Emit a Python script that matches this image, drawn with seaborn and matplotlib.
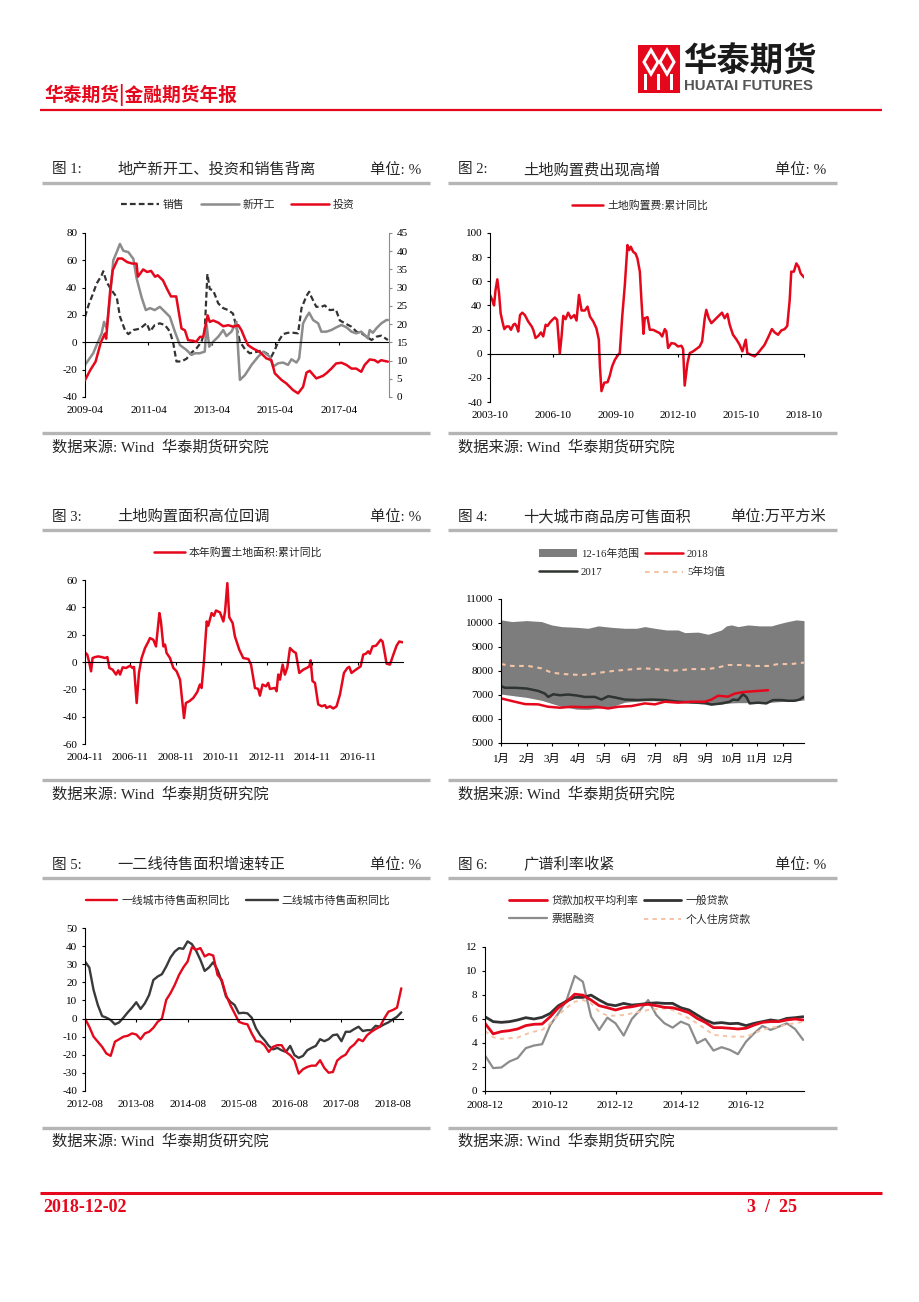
import numpy as np
import seaborn as sns
import matplotlib.pyplot as plt
from matplotlib.lines import Line2D
from matplotlib.patches import Patch, Rectangle, Polygon

# ---------------- data ----------------
# 图1  (x = months since 2009-04)
sales_m = [0, 1.3, 3.1, 4.4, 6.3, 6.9, 8.2, 10.1, 12, 13.2, 15.1, 16.4, 18.3, 20.8, 23.3, 24.6, 26.4,
           28.3, 30.2, 32.1, 33.4, 34.6, 36.5, 38.4, 40.3, 42.2, 44.1, 45.3, 46.3, 47.2, 48.5, 50.4,
           52.3, 54.2, 56, 57.3, 58.6, 60.5, 62.3, 64.9, 66.8, 68.6, 70.5, 71.8, 73.1, 74.9, 76.8,
           78.7, 80.6, 81.9, 83.8, 84.8, 85.7, 87.5, 89.4, 90.7, 92.6, 94.9, 96.4, 98.3, 100.8,
           102.7, 104.6, 106.5, 108.4, 110.2, 112.1, 114.6]
sales_v = [18.7, 27, 36, 43, 49, 52, 44, 38, 33, 19, 9, 6, 9, 10, 14, 8, 12.7, 13.9, 12.7, 8,
           -0.7, -14, -14, -12, -7.5, -4.4, 0.5, 9, 50, 39, 38, 28.5, 25, 23.6, 21, 11, 0.5, -5,
           -8, -7, -6, -8, -10.5, -5.6, 0.5, 6, 7, 7, 6.6, 25, 34, 37, 33, 26, 26, 27, 23.6, 24,
           16, 14, 11.4, 7.8, 6.6, 4.1, 1.7, 4.1, 4.9, 1.7]
starts_m = [0, 1.3, 3.1, 4.4, 6.3, 7.2, 8.2, 9.4, 10.7, 12, 13.2, 14.5, 16.4, 18.3, 19.5, 21.4, 23,
            24.6, 26.4, 28.3, 30.2, 32.1, 34, 35.9, 38.4, 40.3, 41.6, 43.4, 45.3, 46, 47, 48.5,
            50.4, 52.3, 53.5, 55.4, 57.3, 58.6, 60.5, 63, 65.5, 67.4, 69.9, 71.2, 73.1, 74.9,
            76.8, 78.1, 80, 81, 82.5, 83.8, 84.8, 86.3, 88.2, 89.4, 91.3, 93.2, 95.1, 97, 98.9,
            100.8, 102.6, 104.5, 105.8, 107, 107.7, 108.9, 110.2, 112.1, 114, 114.6]
starts_v = [-16.5, -13, -8, -2, 6.6, 15, 10, 31, 60, 66, 72, 67, 66, 61, 47, 33, 23.6, 25, 23.6,
            26, 22.4, 18.7, 7.8, -2, -5.6, -9.2, -8, -8, -6.8, 12.7, -3.2, 0.5, 4.1, 9, 4.6, 7.8,
            15, -27.5, -24, -16.5, -10.5, -6.8, -10.5, -17.8, -15.3, -14.8, -16.5, -12.4, -14.8,
            -11.7, 13.9, 18.7, 21.7, 16.3, 13.9, 7.8, 7.8, 9, 11, 12.7, 11, 7.8, 6.6, 7.8, 5.4,
            2.9, 9, 7, 10.2, 13.9, 16.3, 16.3]
inv_m = [0, 2, 4, 6, 7.5, 8, 9.5, 10.5, 12.5, 14, 16, 18, 19.5, 20, 22, 23.5, 25, 26.5, 27.5,
         29.5, 31, 32.5, 34.5, 36.5, 37.8, 39, 41, 42, 43.5, 44.7, 46.4, 47.2, 48.5, 50.4, 52.3,
         54.2, 56, 58, 59.2, 60.5, 61.7, 63.6, 66, 68.6, 70.5, 71.8, 74.3, 76.2, 78.7, 80.6,
         82.5, 83.8, 85, 87.5, 90, 91.3, 93.2, 95, 97, 98.9, 100.8, 102.6, 104.5, 105.8, 107.7,
         109.6, 110.8, 112, 113.3, 114.6]
inv_v = [4.6, 7.4, 9.7, 15, 17.4, 16, 29, 34.8, 38, 38, 37, 36.6, 36.6, 33, 35, 34.3, 34.6, 33,
         33.4, 32, 29.7, 27.6, 27.6, 18.8, 18.3, 15.6, 15.4, 15.1, 16.5, 16.5, 22.4, 20.6, 21,
         20.4, 19.4, 19.7, 19.3, 19.7, 18.3, 16, 14.2, 13.3, 12.4, 10.6, 10.1, 6.5, 4.7, 3.7,
         1.9, 1.0, 2.8, 6.7, 7.2, 5.1, 5.8, 6.5, 7.8, 9.2, 9.4, 8.8, 7.8, 7.8, 6.9, 8.8, 10.3,
         10.1, 9.5, 10.1, 9.9, 9.7]
fig1_ticks = ['2009-04', '2011-04', '2013-04', '2015-04', '2017-04']

# 图2  (x = months since 2003-10)
fee_m = [0, 1.3, 2.3, 3.2, 4.2, 5.2, 6.1, 7.1, 8.2, 9.5, 10.9, 12, 13.4, 14.3, 15.3, 16.2, 17.2,
         18.5, 20, 21.9, 23.9, 24.8, 26.1, 27.7, 29.2, 30.5, 31.9, 33, 34.4, 35.7, 37.2, 38.5, 40,
         41, 42, 43.3, 44.8, 46.4, 48.3, 49.6, 51, 52.5, 54.4, 55.9, 57.3, 59.2, 61, 62.4, 63,
         63.9, 65.5, 67.4, 68.7, 70, 71.6, 73.5, 74.4, 75.8, 77.3, 78.8, 79.8, 80.7, 82.1, 83.4,
         84.5, 85.9, 86.8, 88, 88.7, 90.3, 91.6, 93.5, 95.4, 97.3, 98.7, 100.2, 101.1, 102.1,
         104, 105.9, 107.8, 109.7, 110.7, 111.6, 113.2, 114.5, 116.4, 118.3, 120.2, 121.6,
         123.1, 124, 125.4, 126.9, 128.8, 130.7, 133, 134.5, 136.1, 137.4, 139.3, 141.2, 143.1,
         144.7, 146.6, 147.5, 149.4, 151.7, 153.6, 155.5, 157.4, 159.7, 161.6, 163.2, 165.1,
         167, 168.9, 170.4, 171.8, 172.7, 174.2, 175.6, 176.9, 178.1, 180]
fee_v = [48.7, 44.5, 40, 53, 61.6, 50, 33.5, 26.7, 20.4, 22.6, 22.6, 19.8, 24, 24.8, 22.6, 18.4,
         32, 34, 32, 26.7, 22.6, 19.8, 13, 14.8, 17.6, 14.3, 24, 23, 26, 28, 30, 28, 0, 14, 31.4,
         28.6, 34, 29.4, 32, 27.5, 48.7, 35.8, 35.8, 39, 30.8, 26.7, 21, 11.6, -10.5, -31, -24,
         -23.6, -18, -10.5, -5, -0.8, 0.5, 30.8, 57, 90, 85.8, 88.6, 84.4, 83, 79, 68, 44.5,
         16.5, 29.4, 30.3, 19.8, 19.8, 18.4, 17, 14.3, 20.4, 18.4, 4.7, 8.8, 8.3, 6, 6.6, 3.9,
         -26.4, -7.7, 0.5, 1.9, 3.9, 6, 10.2, 29.4, 36.3, 29.4, 25.3, 28, 30.8, 34, 29.4, 33,
         24, 15.7, 12, 7.4, 2, 11.6, 0.5, -0.8, -2.2, 0.5, 3.9, 7.4, 14.3, 20.4, 17.6, 15.7,
         19.3, 20.4, 23, 44.5, 68, 68, 74.8, 72, 66.5, 63.3]
fig2_ticks = ['2003-10', '2006-10', '2009-10', '2012-10', '2015-10', '2018-10']

# 图3  (x = months since 2004-11)
area_m = [0, 1.2, 2.3, 3.2, 4, 5.3, 7, 8.8, 10.6, 11.8, 12.9, 14.6, 16.4, 17.6, 18.5, 19.9, 21.7,
          23.8, 25.2, 25.9, 27.3, 28.5, 29.9, 31.7, 33.5, 34.3, 36.1, 37.5, 39.3, 40.1, 41.4,
          42.3, 43.1, 44.9, 46.7, 48.4, 50.2, 52.3, 53.3, 55.1, 57.2, 59.3, 60.7, 61.6, 62.9,
          64.3, 65.1, 66.9, 68.1, 69.2, 71.3, 73.1, 74, 75.2, 76.2, 78, 79.2, 81.5, 83.6, 86.3,
          87.7, 88.9, 89.8, 91.5, 92.4, 93.8, 95.6, 96.8, 97.7, 100.4, 101.2, 102.1, 103, 104.4,
          105.6, 106.9, 108.3, 110, 111.4, 113.2, 115.3, 117.1, 118.5, 119.2, 120.2, 121.5,
          123.2, 125, 126.8, 127.6, 129.4, 131.2, 132.9, 134.7, 136.8, 138.6, 139.6, 140.8,
          142.6, 144.4, 145.6, 147, 148.4, 149.6, 150.5, 151.9, 153.7, 154.9, 156.2, 157.2,
          158.5, 159.3, 161.1, 162.9, 164.6, 166, 167.8]
area_v = [7, 5.4, -0.7, -6.8, 2.9, 3.6, 4.1, 3.6, 2.9, 3.6, -4.4, -5.6, -9.2, -6.1, -9.2, -3.9,
          -4.4, -2.7, -4.4, -3.6, -30, -8, 2.9, 10.2, 15, 17.5, 16.3, 11.4, 35.8, 29.7, 11.4,
          12.7, 6.6, 2.9, -4.4, -6.8, -12.9, -41, -30, -28.7, -26.3, -22, -16.5, -19, 1.7, 29.7,
          26.5, 35.8, 33.8, 37.7, 36.3, 29.7, 37, 57.7, 32.8, 28.5, 18.7, 9, 2.9, 2.2, -1.9,
          -11.7, -19, -19.7, -24.6, -16.5, -17.8, -15.3, -19.7, -19, -21.4, -9.2, -12.9, -1.9,
          -9.2, -3.9, 10.2, 7.8, 6.6, -8, -5.6, -4.4, -3.2, 1.2, -14, -15.3, -31, -32.4, -31.6,
          -33.6, -32.4, -34, -32.4, -23.8, -8, -4.4, -3.6, -8, -6.1, -4.4, -3.2, 5.4, 6.1, 7.8,
          6.1, 11.4, 11.9, 13.9, 16.3, 15, 5.4, -1.2, -1.9, 5.4, 11.9, 15, 14.4]
fig3_ticks = ['2004-11', '2006-11', '2008-11', '2010-11', '2012-11', '2014-11', '2016-11']

# 图4  (x = position within the year, 0 = 1月)
band_t = [0, 0.42, 1, 1.58, 1.97, 2.36, 2.95, 3.4, 3.79, 4.31, 4.83, 5.29, 5.61, 6, 6.45, 6.91,
          7.17, 7.69, 8.08, 8.6, 8.79, 8.99, 9.25, 9.64, 10.09, 10.55, 10.81, 11.19, 11.52, 11.82]
band_hi = [10130, 10060, 10100, 10060, 9920, 9850, 9820, 9780, 9880, 9820, 9780, 9780, 9850,
           9780, 9710, 9710, 9600, 9620, 9530, 9710, 9880, 9920, 9850, 9920, 9880, 9880, 9960,
           10060, 10130, 10100]
band_lo = [7040, 6980, 6900, 6780, 6650, 6520, 6410, 6400, 6450, 6510, 6700, 6740, 6760, 6760,
           6740, 6720, 6700, 6640, 6590, 6620, 6650, 6670, 6680, 6680, 6690, 6700, 6720, 6740,
           6760, 6790]
y2017_t = [0, 0.16, 0.55, 1, 1.45, 1.71, 1.84, 2.04, 2.3, 2.62, 2.95, 3.27, 3.66, 3.92, 4.18,
           4.44, 4.83, 5.35, 5.87, 6.39, 6.91, 7.43, 7.95, 8.21, 8.6, 8.92, 9.05, 9.25, 9.44,
           9.57, 9.7, 10.03, 10.35, 10.61, 10.94, 11.19, 11.45, 11.65, 11.82]
y2017_v = [7370, 7300, 7300, 7270, 7170, 7060, 6920, 7030, 6990, 7020, 6980, 6920, 6920, 6810,
           6950, 6900, 6810, 6790, 6810, 6790, 6720, 6690, 6680, 6600, 6650, 6720, 6810, 6790,
           7030, 6920, 6650, 6680, 6650, 6790, 6790, 6760, 6760, 6810, 6930]
y2018_t = [0, 0.42, 0.94, 1.45, 1.84, 2.3, 2.75, 3.27, 3.73, 4.18, 4.57, 5.09, 5.61, 6, 6.39,
           6.91, 7.43, 7.95, 8.21, 8.47, 8.86, 9.12, 9.51, 10.03, 10.42]
y2018_v = [6860, 6750, 6620, 6610, 6510, 6470, 6510, 6490, 6510, 6440, 6510, 6540, 6650, 6610,
           6720, 6680, 6720, 6720, 6810, 6970, 6930, 7060, 7130, 7170, 7200]
avg5_t = [0, 0.42, 1.06, 1.58, 1.97, 2.49, 3.14, 3.53, 3.92, 4.44, 5.09, 5.61, 6.13, 6.65, 7.04,
          7.43, 8.08, 8.47, 8.86, 9.38, 9.9, 10.42, 10.81, 11.32, 11.82]
avg5_v = [8290, 8210, 8210, 8110, 7930, 7870, 7830, 7870, 7940, 8010, 8070, 8110, 8070, 8010,
          8040, 8080, 8080, 8150, 8250, 8250, 8210, 8210, 8290, 8290, 8350]
month_labels = ['1月', '2月', '3月', '4月', '5月', '6月', '7月', '8月', '9月', '10月', '11月', '12月']

# 图5  (monthly from 2012-08)
tier1 = [0, -4.5, -10, -12.8, -15.6, -19.3, -20.6, -12.8, -11.4, -10, -9.5, -8.2, -8.8, -11.4,
         -8.2, -7.3, -5.1, -1.8, 0, 10.3, 14, 18.6, 24.1, 28.2, 31.5, 39.3, 38, 38.9, 34.3, 35.6,
         34.8, 24.1, 21.3, 13, 7.5, 2.9, -1.8, -2.7, -3.2, -8.2, -12.5, -12.8, -14.7, -18.4,
         -15.6, -14.7, -14.7, -18.4, -20.2, -23, -30.4, -28, -26.7, -26, -26, -23, -27.3, -29.9,
         -29.5, -23.2, -21.2, -19.9, -16.2, -14.3, -11.4, -12.5, -9.2, -7.3, -5.8, -4.5, 0, 3.8,
         4.7, 6, 16.7]
tier2 = [31.5, 28.2, 15.8, 7.5, 1.4, 0.5, -0.8, -3.2, -2.1, 0.5, 3.4, 6, 9, 5.3, 8.4, 13, 21.3,
         23.2, 24.5, 28.7, 33.7, 37, 38.9, 38.5, 42.6, 41.1, 37.4, 32.4, 26.3, 28.2, 31.1, 26.9,
         20.4, 12.1, 9.3, 7.5, 2.9, 3.2, 2.9, 0.5, -5.4, -9.2, -11.9, -15.1, -17, -16.2, -17.5,
         -18.4, -15.1, -20.2, -21.7, -20.6, -17.5, -16.2, -15.1, -11.4, -12.5, -11.4, -9.2,
         -8.8, -12.5, -7.3, -7.3, -5.8, -4.5, -6.9, -6.4, -6.4, -4, -4.5, -3.2, -2.1, -0.5, 1,
         3.4]
fig5_ticks = ['2012-08', '2013-08', '2014-08', '2015-08', '2016-08', '2017-08', '2018-08']

# 图6  (quarterly from 2008-12)
rate_avg = [5.64, 4.76, 4.95, 5.03, 5.17, 5.45, 5.56, 5.58, 6.19, 6.94, 7.44, 8.07, 7.99, 7.58,
            7.11, 6.94, 6.75, 6.94, 7.02, 7.16, 7.22, 7.11, 6.97, 6.94, 6.75, 6.52, 6.05, 5.72,
            5.28, 5.28, 5.23, 5.17, 5.23, 5.5, 5.72, 5.78, 5.78, 5.92, 6.0, 5.92]
rate_general = [6.19, 5.78, 5.72, 5.78, 5.92, 6.11, 6.0, 6.14, 6.47, 7.11, 7.49, 7.8, 7.8, 7.99,
                7.58, 7.22, 7.11, 7.3, 7.16, 7.22, 7.3, 7.35, 7.3, 7.3, 6.94, 6.75, 6.33, 5.92,
                5.64, 5.7, 5.61, 5.64, 5.45, 5.64, 5.78, 5.92, 5.83, 6.05, 6.11, 6.19]
rate_bill = [2.96, 1.91, 1.96, 2.46, 2.74, 3.57, 3.79, 3.9, 5.5, 6.47, 7.58, 9.59, 9.1, 6.19,
             5.09, 6.11, 5.64, 4.62, 6.0, 6.75, 7.58, 6.33, 5.64, 5.28, 5.78, 5.5, 3.98, 4.34,
             3.37, 3.65, 3.43, 3.07, 4.12, 4.81, 5.42, 5.09, 5.36, 5.64, 5.17, 4.26]
rate_mortgage = [5.0, 4.48, 4.34, 4.4, 4.45, 4.73, 4.95, 5.09, 5.64, 6.33, 6.94, 7.44, 7.58, 7.3,
                 6.61, 6.28, 6.28, 6.33, 6.47, 6.61, 6.75, 6.83, 6.88, 6.75, 6.39, 6.05, 5.64,
                 5.17, 4.67, 4.62, 4.53, 4.53, 4.53, 4.81, 5.09, 5.28, 5.36, 5.56, 5.64, 5.78]
fig6_ticks = ['2008-12', '2010-12', '2012-12', '2014-12', '2016-12']

# ---------------- style ----------------
RED = '#e5081c'
DARK = '#333333'
GRAY = '#8c8c8c'
PEACH = '#f5c3a6'
BAND = '#7d7d7d'
RULE = '#b5b5b5'
TICK_FS = 8
LEG_FS = 7.8

sns.set_theme(style='white')
plt.rcParams['font.family'] = ['Liberation Serif', 'Noto Sans CJK SC']
plt.rcParams['axes.unicode_minus'] = False

W, H = 920, 1302
fig = plt.figure(figsize=(W / 100, H / 100), dpi=100)
fig.patch.set_facecolor('white')


def box(l, t, r, b):
    return [l / W, 1 - b / H, (r - l) / W, (b - t) / H]


def style_axis(ax, ylim, ystep, xlim, xticks, xlabels, zero_spine=True):
    ax.set_xlim(*xlim)
    ax.set_ylim(*ylim)
    ax.set_yticks(np.arange(ylim[0], ylim[1] + ystep // 2, ystep))
    ax.set_xticks(xticks)
    ax.set_xticklabels(xlabels)
    ax.set_xlabel('')
    ax.set_ylabel('')
    ax.grid(False)
    ax.set_facecolor('none')
    for s in ['top', 'right']:
        ax.spines[s].set_visible(False)
    for s in ['left', 'bottom']:
        ax.spines[s].set_color('black')
        ax.spines[s].set_linewidth(0.8)
    ax.tick_params(axis='y', left=True, direction='out', length=2.5, width=0.8,
                   labelsize=TICK_FS, pad=3, colors='black')
    pad = 5
    if zero_spine and ylim[0] < 0:
        ax.spines['bottom'].set_position(('data', 0))
        h = ax.get_position().height * H
        dist = h * (0 - ylim[0]) / (ylim[1] - ylim[0])
        pad = (dist + 9) * 0.72 - 2.5
    ax.tick_params(axis='x', bottom=True, direction='out', length=2.5, width=0.8,
                   labelsize=TICK_FS, pad=pad, colors='black')


def legend(handles, labels, cx, cy, ncol, colsp=2.2, hl=3.5):
    fig.legend(handles, labels, loc='center', bbox_to_anchor=(cx / W, 1 - cy / H), ncol=ncol,
               frameon=False, fontsize=LEG_FS, handlelength=hl, handletextpad=0.35,
               columnspacing=colsp, labelspacing=0.75, borderpad=0, borderaxespad=0)


dash_sales = (0, (2.6, 1.4))
dash_light = (0, (2.2, 2.2))

# ---- 图1 ----
ax1 = fig.add_axes(box(85, 233, 389, 397))
sns.lineplot(x=sales_m, y=sales_v, ax=ax1, color=DARK, linewidth=1.6, linestyle=dash_sales)
sns.lineplot(x=starts_m, y=starts_v, ax=ax1, color=GRAY, linewidth=1.8)
style_axis(ax1, (-40, 80), 20, (0, 115), [0, 24, 48, 72, 96], fig1_ticks)
ax1r = ax1.twinx()
sns.lineplot(x=inv_m, y=inv_v, ax=ax1r, color=RED, linewidth=1.8)
ax1r.set_xlim(0, 115)
ax1r.set_ylim(0, 45)
ax1r.set_yticks(np.arange(0, 46, 5))
ax1r.set_ylabel('')
ax1r.grid(False)
for s in ['top', 'left', 'bottom']:
    ax1r.spines[s].set_visible(False)
ax1r.spines['right'].set_color(GRAY)
ax1r.spines['right'].set_linewidth(0.8)
ax1r.tick_params(axis='y', right=True, direction='out', length=2.5, width=0.8,
                 labelsize=TICK_FS, pad=3, colors=GRAY, labelcolor='black')
legend([Line2D([], [], color=DARK, lw=1.6, ls=dash_sales),
        Line2D([], [], color=GRAY, lw=1.8),
        Line2D([], [], color=RED, lw=1.8)],
       ['销售', '新开工', '投资'], 238, 205, 3, colsp=1.5)

# ---- 图2 ----
ax2 = fig.add_axes(box(490, 233, 804, 402))
sns.lineplot(x=fee_m, y=fee_v, ax=ax2, color=RED, linewidth=1.8)
style_axis(ax2, (-40, 100), 20, (0, 180), [0, 36, 72, 108, 144, 180], fig2_ticks)
legend([Line2D([], [], color=RED, lw=1.8)], ['土地购置费:累计同比'], 640, 205, 1, hl=2.9)

# ---- 图3 ----
ax3 = fig.add_axes(box(85, 580, 403, 744))
sns.lineplot(x=area_m, y=area_v, ax=ax3, color=RED, linewidth=1.8)
style_axis(ax3, (-60, 60), 20, (0, 168), [0, 24, 48, 72, 96, 120, 144], fig3_ticks)
legend([Line2D([], [], color=RED, lw=1.8)], ['本年购置土地面积:累计同比'], 238, 552, 1, hl=2.9)

# ---- 图4 ----
ax4 = fig.add_axes(box(501, 599, 804, 743))
ax4.fill_between(band_t, band_lo, band_hi, color=BAND, linewidth=0)
sns.lineplot(x=avg5_t, y=avg5_v, ax=ax4, color=PEACH, linewidth=1.5, linestyle=dash_light)
sns.lineplot(x=y2017_t, y=y2017_v, ax=ax4, color='#2e3430', linewidth=1.8)
sns.lineplot(x=y2018_t, y=y2018_v, ax=ax4, color=RED, linewidth=1.8)
style_axis(ax4, (5000, 11000), 1000, (0, 11.82), list(range(12)), month_labels, zero_spine=False)
legend([Patch(facecolor=BAND, edgecolor='none'),
        Line2D([], [], color='#2e3430', lw=1.8),
        Line2D([], [], color=RED, lw=1.8),
        Line2D([], [], color=PEACH, lw=1.5, ls=dash_light)],
       ['12-16年范围', '2017', '2018', '5年均值'], 632, 563, 2, colsp=0.6)

# ---- 图5 ----
ax5 = fig.add_axes(box(85, 928, 403, 1091))
months5 = list(range(len(tier1)))
sns.lineplot(x=months5, y=tier2, ax=ax5, color='#3a3a3a', linewidth=1.7)
sns.lineplot(x=months5, y=tier1, ax=ax5, color=RED, linewidth=1.7)
style_axis(ax5, (-40, 50), 10, (0, 74.4), [0, 12, 24, 36, 48, 60, 72], fig5_ticks)
legend([Line2D([], [], color=RED, lw=1.7), Line2D([], [], color='#3a3a3a', lw=1.7)],
       ['一线城市待售面积同比', '二线城市待售面积同比'], 238, 900, 2, colsp=1.5, hl=2.9)

# ---- 图6 ----
ax6 = fig.add_axes(box(485, 947, 804, 1091))
quarters = list(range(len(rate_avg)))
sns.lineplot(x=quarters, y=rate_bill, ax=ax6, color=GRAY, linewidth=1.6)
sns.lineplot(x=quarters, y=rate_mortgage, ax=ax6, color=PEACH, linewidth=1.4, linestyle=dash_light)
sns.lineplot(x=quarters, y=rate_general, ax=ax6, color=DARK, linewidth=2.0)
sns.lineplot(x=quarters, y=rate_avg, ax=ax6, color=RED, linewidth=2.0)
style_axis(ax6, (0, 12), 2, (0, 39.1), [0, 8, 16, 24, 32], fig6_ticks, zero_spine=False)
legend([Line2D([], [], color=RED, lw=2.0), Line2D([], [], color=GRAY, lw=1.6),
        Line2D([], [], color=DARK, lw=2.0), Line2D([], [], color=PEACH, lw=1.4, ls=dash_light)],
       ['贷款加权平均利率', '票据融资', '一般贷款', '个人住房贷款'], 630, 910, 2, colsp=0.5)

# ---------------- page furniture ----------------
page = fig.add_axes([0, 0, 1, 1])
page.set_xlim(0, W)
page.set_ylim(H, 0)
page.axis('off')
page.set_facecolor('none')

# logo
page.add_patch(Rectangle((638, 45), 42, 48, facecolor=RED, edgecolor='none'))
for cx in (651, 667):
    page.add_patch(Polygon([(cx, 50), (cx + 7, 62), (cx, 74), (cx - 7, 62)], closed=True,
                           facecolor='none', edgecolor='white', linewidth=2.2))
for bx in (644, 657, 670):
    page.add_patch(Rectangle((bx, 74), 3.5, 16, facecolor='white', edgecolor='none'))
page.text(683, 61, '华泰期货', fontsize=24, fontweight='bold', color='#1a1a1a',
          family=['Noto Sans CJK SC'], va='center', ha='left')
page.text(684, 86, 'HUATAI FUTURES', fontsize=10.8, fontweight='bold', color='#555555',
          family=['Liberation Sans'], va='center', ha='left')
page.text(44, 95, '华泰期货|金融期货年报', fontsize=13.5, fontweight='bold', color=RED,
          family=['Noto Sans CJK SC'], va='center', ha='left')
page.plot([40, 882], [110, 110], color=RED, lw=1.6, solid_capstyle='butt')

# figure titles / sources
rows = [
    (170, 183, 433, 447,
     ('图 1:', '地产新开工、投资和销售背离', '单位: %'),
     ('图 2:', '土地购置费出现高增', '单位: %')),
    (517, 530, 780, 794,
     ('图 3:', '土地购置面积高位回调', '单位: %'),
     ('图 4:', '十大城市商品房可售面积', '单位:万平方米')),
    (865, 878, 1128, 1141,
     ('图 5:', '一二线待售面积增速转正', '单位: %'),
     ('图 6:', '广谱利率收紧', '单位: %')),
]
for ty, ly, sy, st, left, right in rows:
    for (num, title, unit), x0, x1, xr in ((left, 42, 430, 421), (right, 448, 837, 826)):
        page.text(x0 + 10, ty, num, fontsize=10.5, va='center', ha='left')
        page.text(x0 + 75, ty, title, fontsize=11, va='center', ha='left')
        page.text(xr, ty, unit, fontsize=11, va='center', ha='right')
        page.plot([x0, x1], [ly, ly], color=RULE, lw=2.4, solid_capstyle='butt')
        page.plot([x0, x1], [sy, sy], color=RULE, lw=2.4, solid_capstyle='butt')
        page.text(x0 + 10, st, '数据来源: Wind  华泰期货研究院', fontsize=11, va='center', ha='left')

# footer
page.plot([40, 882], [1193, 1193], color=RED, lw=2.2, solid_capstyle='butt')
page.text(43, 1208, '2018-12-02', fontsize=13, fontweight='bold', color=RED,
          va='center', ha='left')
page.text(747, 1208, '3  /  25', fontsize=13, fontweight='bold', color=RED,
          va='center', ha='left')

fig.savefig('out.png', dpi=100, facecolor='white')
